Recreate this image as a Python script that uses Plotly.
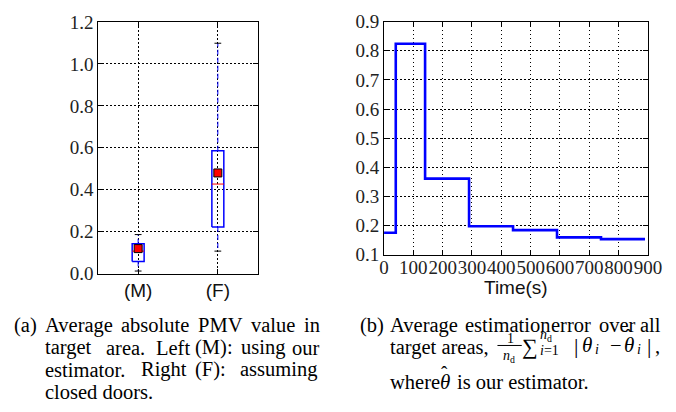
import plotly.graph_objects as go

W, H = 676, 412
SERIF = "Liberation Serif"
SANS = "Liberation Sans"

# ---------------- data ----------------
# (a) box statistics
box_labels = ["(M)", "(F)"]
box_pos = [1, 2]
q1 = [0.058, 0.222]
median = [0.107, 0.427]
q3 = [0.142, 0.586]
whisk_lo = [0.012, 0.107]
whisk_hi = [0.186, 1.099]
means = [0.119, 0.480]

# (b) step series
time_s = [0, 40, 140, 290, 440, 590, 740, 890]
err = [0.175, 0.824, 0.361, 0.197, 0.184, 0.159, 0.153, 0.153]

left_yticks = [0.0, 0.2, 0.4, 0.6, 0.8, 1.0, 1.2]
right_yticks = [0.1, 0.2, 0.3, 0.4, 0.5, 0.6, 0.7, 0.8, 0.9]
right_xticks = [0, 100, 200, 300, 400, 500, 600, 700, 800, 900]

# ---------------- figure ----------------
fig = go.Figure()

BW = 0.15   # box width (data units)
CW = 0.085  # cap width

bx, by, mx, my, wx, wy, cx, cy = [], [], [], [], [], [], [], []
for p, a, m, b, lo, hi in zip(box_pos, q1, median, q3, whisk_lo, whisk_hi):
    l, r = p - BW / 2, p + BW / 2
    bx += [l, r, r, l, l, None]
    by += [a, a, b, b, a, None]
    mx += [l, r, None]
    my += [m, m, None]
    wx += [p, p, None, p, p, None]
    wy += [b, hi, None, a, lo, None]
    cx += [p - CW / 2, p + CW / 2, None, p - CW / 2, p + CW / 2, None]
    cy += [hi, hi, None, lo, lo, None]

fig.add_trace(go.Scatter(x=wx, y=wy, mode="lines", xaxis="x", yaxis="y",
                         line=dict(color="blue", width=1, dash="5px,3px"), hoverinfo="skip"))
fig.add_trace(go.Scatter(x=cx, y=cy, mode="lines", xaxis="x", yaxis="y",
                         line=dict(color="black", width=1), hoverinfo="skip"))
fig.add_trace(go.Scatter(x=bx, y=by, mode="lines", xaxis="x", yaxis="y",
                         line=dict(color="blue", width=1.5), hoverinfo="skip"))
fig.add_trace(go.Scatter(x=mx, y=my, mode="lines", xaxis="x", yaxis="y",
                         line=dict(color="red", width=1), hoverinfo="skip"))
fig.add_trace(go.Scatter(x=box_pos, y=means, mode="markers", xaxis="x", yaxis="y",
                         marker=dict(symbol="square", size=8, color="red",
                                     line=dict(color="black", width=1))))

fig.add_trace(go.Scatter(x=time_s, y=err, mode="lines", xaxis="x2", yaxis="y2",
                         line=dict(color="blue", width=2.6, shape="hv")))

common = dict(showline=True, linecolor="black", linewidth=1, mirror="ticks",
              ticks="inside", ticklen=5, tickcolor="black", tickwidth=1,
              showgrid=True, gridcolor="black", gridwidth=1, griddash="1.5px,2.5px",
              zeroline=False, fixedrange=True)
serif_tick = dict(family=SERIF, size=19, color="#222")


def px(x):
    return x / W


def py(y):
    return 1 - y / H


fig.update_layout(
    width=W, height=H, autosize=False,
    margin=dict(l=0, r=0, t=0, b=0, pad=0),
    font=dict(family=SERIF),
    paper_bgcolor="white", plot_bgcolor="white", showlegend=False,
    xaxis=dict(domain=[px(96), px(260)], range=[0.5, 2.5], tickvals=box_pos,
               ticktext=box_labels, tickangle=0,
               tickfont=dict(family=SANS, size=19, color="#111"), anchor="y", **common),
    yaxis=dict(domain=[py(277.7), py(12.7)], range=[0, 1.2], tickvals=left_yticks,
               tickformat=".1f", tickfont=serif_tick, anchor="x", **common),
    xaxis2=dict(domain=[px(390), px(661.5)], range=[0, 900], tickvals=right_xticks,
                tickangle=0, tickfont=serif_tick, anchor="y2", **common),
    yaxis2=dict(domain=[py(257.7), py(12.3)], range=[0.1, 0.9], tickvals=right_yticks,
                tickformat=".1f", tickfont=serif_tick, anchor="x2", **common),
)
try:
    fig.update_layout(xaxis2_ticklabelstandoff=-4)
except Exception:
    pass

DY = 5  # text vertical correction
CAP = dict(family=SERIF, size=20.5, color="black")
SMALL = dict(family=SERIF, size=14, color="black")
MATH = dict(family=SERIF, size=21, color="black")


def word(text, x, y, font=CAP, xanchor="left"):
    fig.add_annotation(text=text, x=px(x), y=py(y + DY), xref="paper", yref="paper",
                       xanchor=xanchor, yanchor="middle", showarrow=False,
                       font=font)


# axis title of (b)
word("Time(s)", 525.5, 287, dict(family=SANS, size=19, color="#111"), "center")

# caption (a): justified lines
cap_a = [
    (327, [("(a)", 7.3), ("Average", 39.3), ("absolute", 117.3), ("PMV", 196.7),
           ("value", 250.7), ("in", 306)]),
    (351, [("target", 39.3), ("area.", 101.7), ("Left", 153.3), ("(M):", 193.3),
           ("using", 240.7), ("our", 293.3)]),
    (374, [("estimator.", 39.3), ("Right", 137.7), ("(F):", 193.3), ("assuming", 240)]),
    (397, [("closed doors.", 39.3)]),
]
for yy, words in cap_a:
    for t, xx in words:
        word(t, xx, yy)

# caption (b)
cap_b1 = [("(b)", 362.7), ("Average", 394.3), ("estimation", 471), ("error", 560),
          ("over", 609.3), ("all", 651.7)]
for t, xx in cap_b1:
    word(t, xx, 327)
word("target areas,", 394.3, 350.5)
word("1", 520, 341.5, SMALL, "center")
word("<i>n</i><sub>d</sub>", 519, 360, SMALL, "center")
word("∑", 540.5, 350, dict(family=SERIF, size=22, color="black"), "center")
word("<i>n</i><sub>d</sub>", 548.3, 338, SMALL)
word("<i>i</i>=1", 548.3, 354, SMALL)
word("|", 587, 348, dict(family=SERIF, size=22, color="black"), "center")
word("<i>θ</i>", 591.7, 347.5, MATH)
word("<i>i</i>", 605, 353, SMALL)
word("−", 620, 348)
word("<i>θ</i>", 635, 347.5, MATH)
word("ˆ", 641.5, 338, dict(family=SERIF, size=19, color="black"), "center")
word("<i>i</i>", 648, 353, SMALL)
word("|", 663, 348, dict(family=SERIF, size=22, color="black"), "center")
word(",", 667, 349)
word("where", 394.3, 387)
word("<i>θ</i>", 446, 387, MATH)
word("ˆ", 452, 377, dict(family=SERIF, size=19, color="black"), "center")
word("is our estimator.", 463, 387)

fig.add_shape(type="line", xref="paper", yref="paper",
              x0=px(506.7), x1=px(531.7), y0=py(353.5), y1=py(353.5),
              line=dict(color="black", width=1))

fig.write_html("out.html")
